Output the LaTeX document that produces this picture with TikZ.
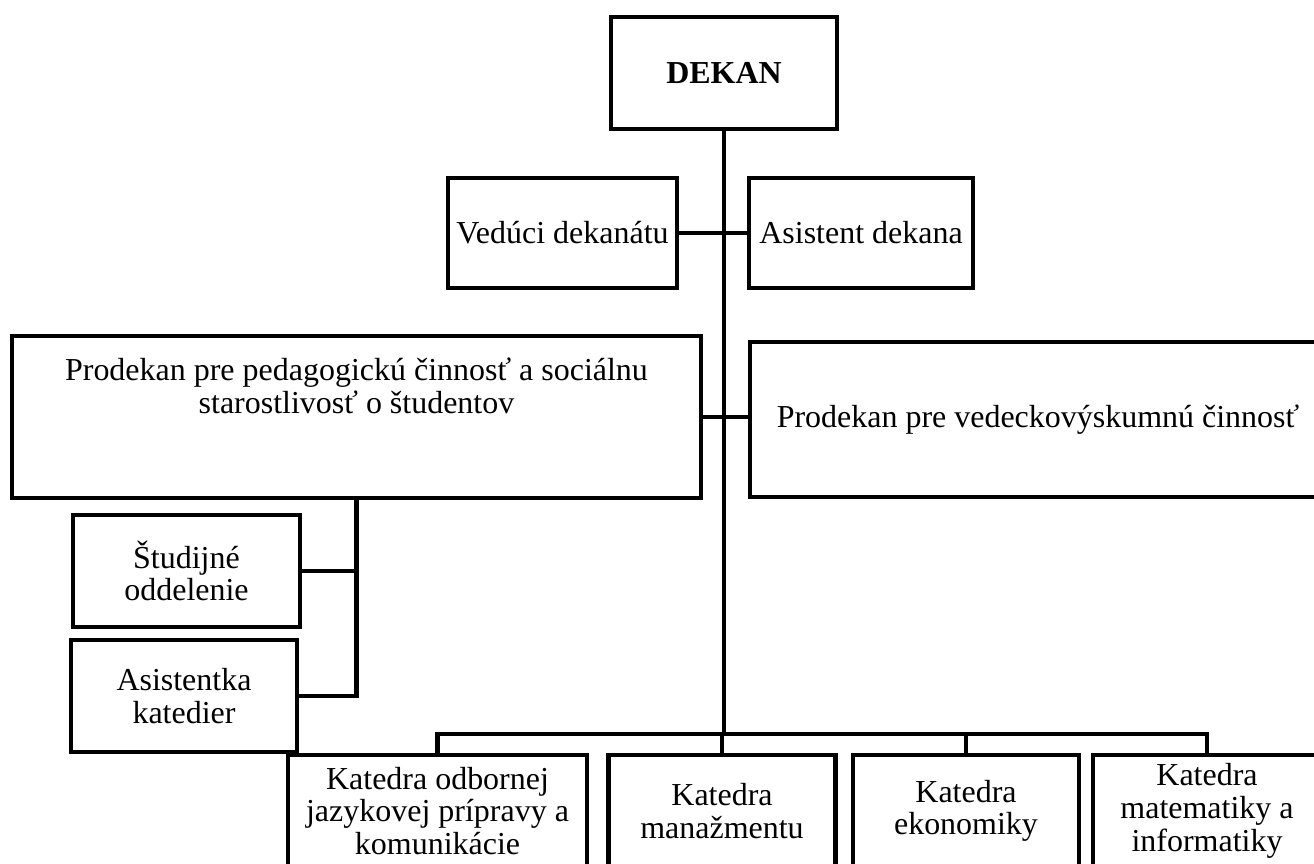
\documentclass[tikz,border=0pt]{standalone}
\usepackage{fontspec}
\setmainfont{Liberation Serif}

\begin{document}
\begin{tikzpicture}[x=0.02cm,y=-0.02cm,
  box/.style={draw,line width=2.6pt,inner sep=0pt,align=center,
    font=\fontsize{18.2}{18.6}\selectfont},
  link/.style={line width=2.6pt}]

\useasboundingbox (0,0) rectangle (1314,864);
\clip (0,0) rectangle (1314,864);

\node[box,minimum width=4.52cm,minimum height=2.24cm] (dekan) at (724,73) {\textbf{DEKAN}};
\node[box,minimum width=4.58cm,minimum height=2.20cm] (veduci) at (562.5,233) {Vedúci dekanátu};
\node[box,minimum width=4.48cm,minimum height=2.20cm] (asistent) at (861,233) {Asistent dekana};
\node[box,minimum width=13.78cm,minimum height=3.24cm,text height=0.5cm,text depth=0.64cm] (pedag) at (356.5,417)
  {Prodekan pre pedagogickú činnosť a sociálnu\\starostlivosť o študentov};
\node[box,minimum width=11.52cm,minimum height=3.10cm] (vedec) at (1038,419.5) {Prodekan pre vedeckovýskumnú činnosť};
\node[box,minimum width=4.54cm,minimum height=2.24cm] (studijne) at (186.5,571) {Študijné\\oddelenie};
\node[box,minimum width=4.52cm,minimum height=2.24cm] (asistentka) at (184,696) {Asistentka\\katedier};
\node[box,minimum width=5.98cm,minimum height=2.24cm] (kjaz) at (437.5,811) {Katedra odbornej\\jazykovej prípravy a\\komunikácie};
\node[box,minimum width=4.54cm,minimum height=2.24cm] (kman) at (722,811) {Katedra\\manažmentu};
\node[box,minimum width=4.52cm,minimum height=2.24cm] (keko) at (966,811) {Katedra\\ekonomiky};
\node[box,minimum width=4.56cm,minimum height=2.24cm] (kmat) at (1207,811) {Katedra\\matematiky a\\informatiky};

\coordinate (bus) at (724,734);

\draw[link] (dekan.south) -- (bus);
\draw[link] (veduci.east) -- (asistent.west);
\draw[link] (pedag.east) -- (vedec.west |- pedag.east);
\draw[link] (pedag.south) |- (asistentka.east);
\draw[link] (studijne.east) -- (studijne.east -| pedag.south);
\draw[link] (kjaz.north) |- (bus) -| (kmat.north);
\draw[link] (kman.north) -- (kman.north |- bus);
\draw[link] (keko.north) -- (keko.north |- bus);
\end{tikzpicture}
\end{document}
